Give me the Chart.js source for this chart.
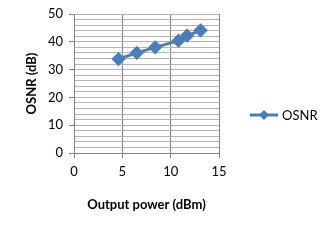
<!DOCTYPE html>
<html>
<head>
<style>
  html, body { margin: 0; padding: 0; background: #fff; }
  #wrap { width: 329px; height: 249px; }
</style>
</head>
<body>
<div id="wrap"><canvas id="chartOsnr"></canvas></div>
<script src="https://cdn.jsdelivr.net/npm/chart.js@4"></script>
<script>
const outputPower = [4.6, 6.5, 8.4, 10.8, 11.7, 13.1];
const osnr = [33.8, 36.0, 38.0, 40.4, 42.2, 44.1];
const seriesName = 'OSNR';
const xTitle = 'Output power (dBm)';
const yTitle = 'OSNR (dB)';

const lineColor = '#4a7ebb';
const font = "Lato, 'Open Sans', sans-serif";

// legend on the right: short line with a diamond, like the spreadsheet one
const sideLegend = {
  id: 'sideLegend',
  afterDraw(chart) {
    const ctx = chart.ctx;
    const y = 115;
    ctx.save();
    ctx.strokeStyle = lineColor;
    ctx.lineWidth = 3;
    ctx.beginPath();
    ctx.moveTo(250, y);
    ctx.lineTo(278, y);
    ctx.stroke();
    ctx.fillStyle = lineColor;
    ctx.beginPath();
    ctx.moveTo(264, y - 5);
    ctx.lineTo(269, y);
    ctx.lineTo(264, y + 5);
    ctx.lineTo(259, y);
    ctx.closePath();
    ctx.fill();
    ctx.fillStyle = '#000';
    ctx.font = '13px ' + font;
    ctx.textBaseline = 'middle';
    ctx.fillText(seriesName, 282, y + 1);
    ctx.restore();
  }
};

new Chart(document.getElementById('chartOsnr').getContext('2d'), {
  type: 'scatter',
  data: {
    datasets: [{
      label: seriesName,
      data: outputPower.map((x, i) => ({ x: x, y: osnr[i] })),
      showLine: true,
      borderColor: lineColor,
      backgroundColor: lineColor,
      borderWidth: 3,
      pointStyle: 'rectRot',
      pointRadius: 5,
      pointHoverRadius: 5
    }]
  },
  options: {
    responsive: true,
    maintainAspectRatio: false,
    animation: false,
    events: [],
    layout: { padding: { top: 14, right: 110, left: 20, bottom: 32 } },
    plugins: { legend: { display: false }, tooltip: { enabled: false } },
    scales: {
      x: {
        type: 'linear',
        min: 0, max: 15,
        ticks: { stepSize: 5, color: '#000', font: { family: font, size: 13 }, padding: 6 },
        grid: { color: '#868686', lineWidth: 1, tickLength: 5, tickColor: '#868686' },
        border: { color: '#868686' },
        title: { display: true, text: xTitle, color: '#000', font: { family: font, size: 13, weight: 'bold' }, padding: { top: 13 } },
        afterFit(scale) { scale.height = 64; }
      },
      y: {
        min: 0, max: 50,
        ticks: {
          stepSize: 2,
          autoSkip: false,
          color: '#000',
          font: { family: font, size: 13 },
          padding: 6,
          callback: v => (v % 10 === 0 ? v : '')
        },
        grid: {
          color: '#b4b4b4',
          lineWidth: 1,
          tickLength: 5,
          tickColor: c => (c.tick && c.tick.value % 10 === 0 ? '#868686' : 'rgba(0,0,0,0)')
        },
        border: { color: '#868686' },
        title: { display: true, text: yTitle, color: '#000', font: { family: font, size: 13, weight: 'bold' }, padding: { bottom: 4 } },
        afterFit(scale) { scale.width = 54; }
      }
    }
  },
  plugins: [sideLegend]
});
</script>
</body>
</html>
